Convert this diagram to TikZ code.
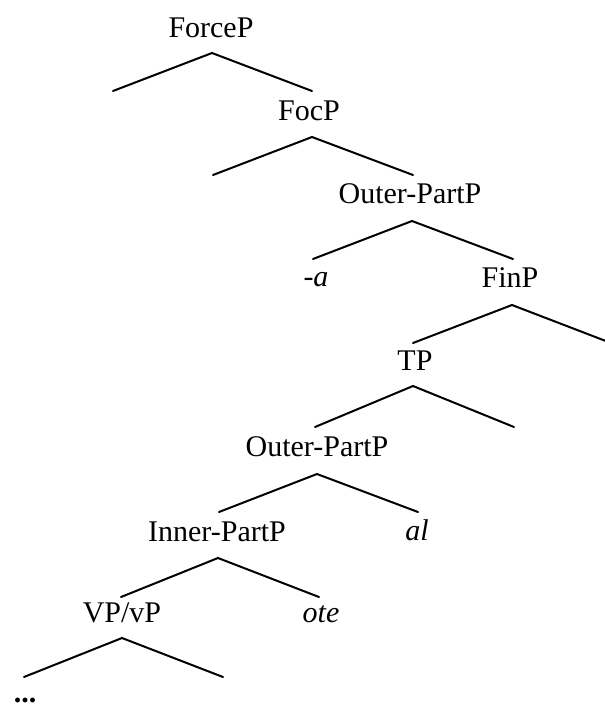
\documentclass[tikz,border=0pt]{standalone}
\usepackage{fontspec}
\setmainfont{Liberation Serif}
\begin{document}
\begin{tikzpicture}[x=1pt,y=-1pt,
  lab/.style={anchor=base,inner sep=0pt,font=\fontsize{30}{36}\selectfont},
  branch/.style={line width=2pt,line cap=round}]
\useasboundingbox (0,0) rectangle (605,707);

% labels (baseline positions)
\node[lab] (forcep) at (211,37)  {ForceP};
\node[lab] (focp)   at (309,120) {FocP};
\node[lab] (opp)    at (410,203) {Outer-PartP};
\node[lab] (sufa)   at (316,286) {\textit{-a}};
\node[lab] (finp)   at (510,287) {FinP};
\node[lab] (tp)     at (415,370) {TP};
\node[lab] (oppb)   at (317,456) {Outer-PartP};
\node[lab] (al)     at (417,540) {\textit{al}};
\node[lab] (ipp)    at (217,541) {Inner-PartP};
\node[lab] (vp)     at (122,622) {VP/vP};
\node[lab] (ote)    at (321,622) {\textit{ote}};
\node[lab,text depth=0pt,text height=5pt] (dots) at (25,702) {\textbf{...}};

% branching points under each mother node
\coordinate (forcep-a) at (212,53);
\coordinate (focp-a)   at (312,137);
\coordinate (opp-a)    at (412,221);
\coordinate (finp-a)   at (512,305);
\coordinate (tp-a)     at (413,386);
\coordinate (oppb-a)   at (317,474);
\coordinate (ipp-a)    at (218,558);
\coordinate (vp-a)     at (122,638);

% branch ends above each daughter
\coordinate (forcep-l) at (113,91);
\coordinate (focp-t)   at (312,91);
\coordinate (focp-l)   at (213,175);
\coordinate (opp-t)    at (413,175);
\coordinate (sufa-t)   at (313,259);
\coordinate (finp-t)   at (513,259);
\coordinate (tp-t)     at (413,343);
\coordinate (finp-r)   at (611,343);
\coordinate (oppb-t)   at (315,427);
\coordinate (tp-r)     at (514,427);
\coordinate (ipp-t)    at (219,512);
\coordinate (al-t)     at (418,512);
\coordinate (vp-t)     at (121,597);
\coordinate (ote-t)    at (319,597);
\coordinate (vp-l)     at (24,677);
\coordinate (vp-r)     at (223,677);

% branches
\draw[branch] (forcep-l) -- (forcep-a) -- (focp-t);
\draw[branch] (focp-l) -- (focp-a) -- (opp-t);
\draw[branch] (sufa-t) -- (opp-a) -- (finp-t);
\draw[branch] (tp-t) -- (finp-a) -- (finp-r);
\draw[branch] (oppb-t) -- (tp-a) -- (tp-r);
\draw[branch] (ipp-t) -- (oppb-a) -- (al-t);
\draw[branch] (vp-t) -- (ipp-a) -- (ote-t);
\draw[branch] (vp-l) -- (vp-a) -- (vp-r);
\end{tikzpicture}
\end{document}
